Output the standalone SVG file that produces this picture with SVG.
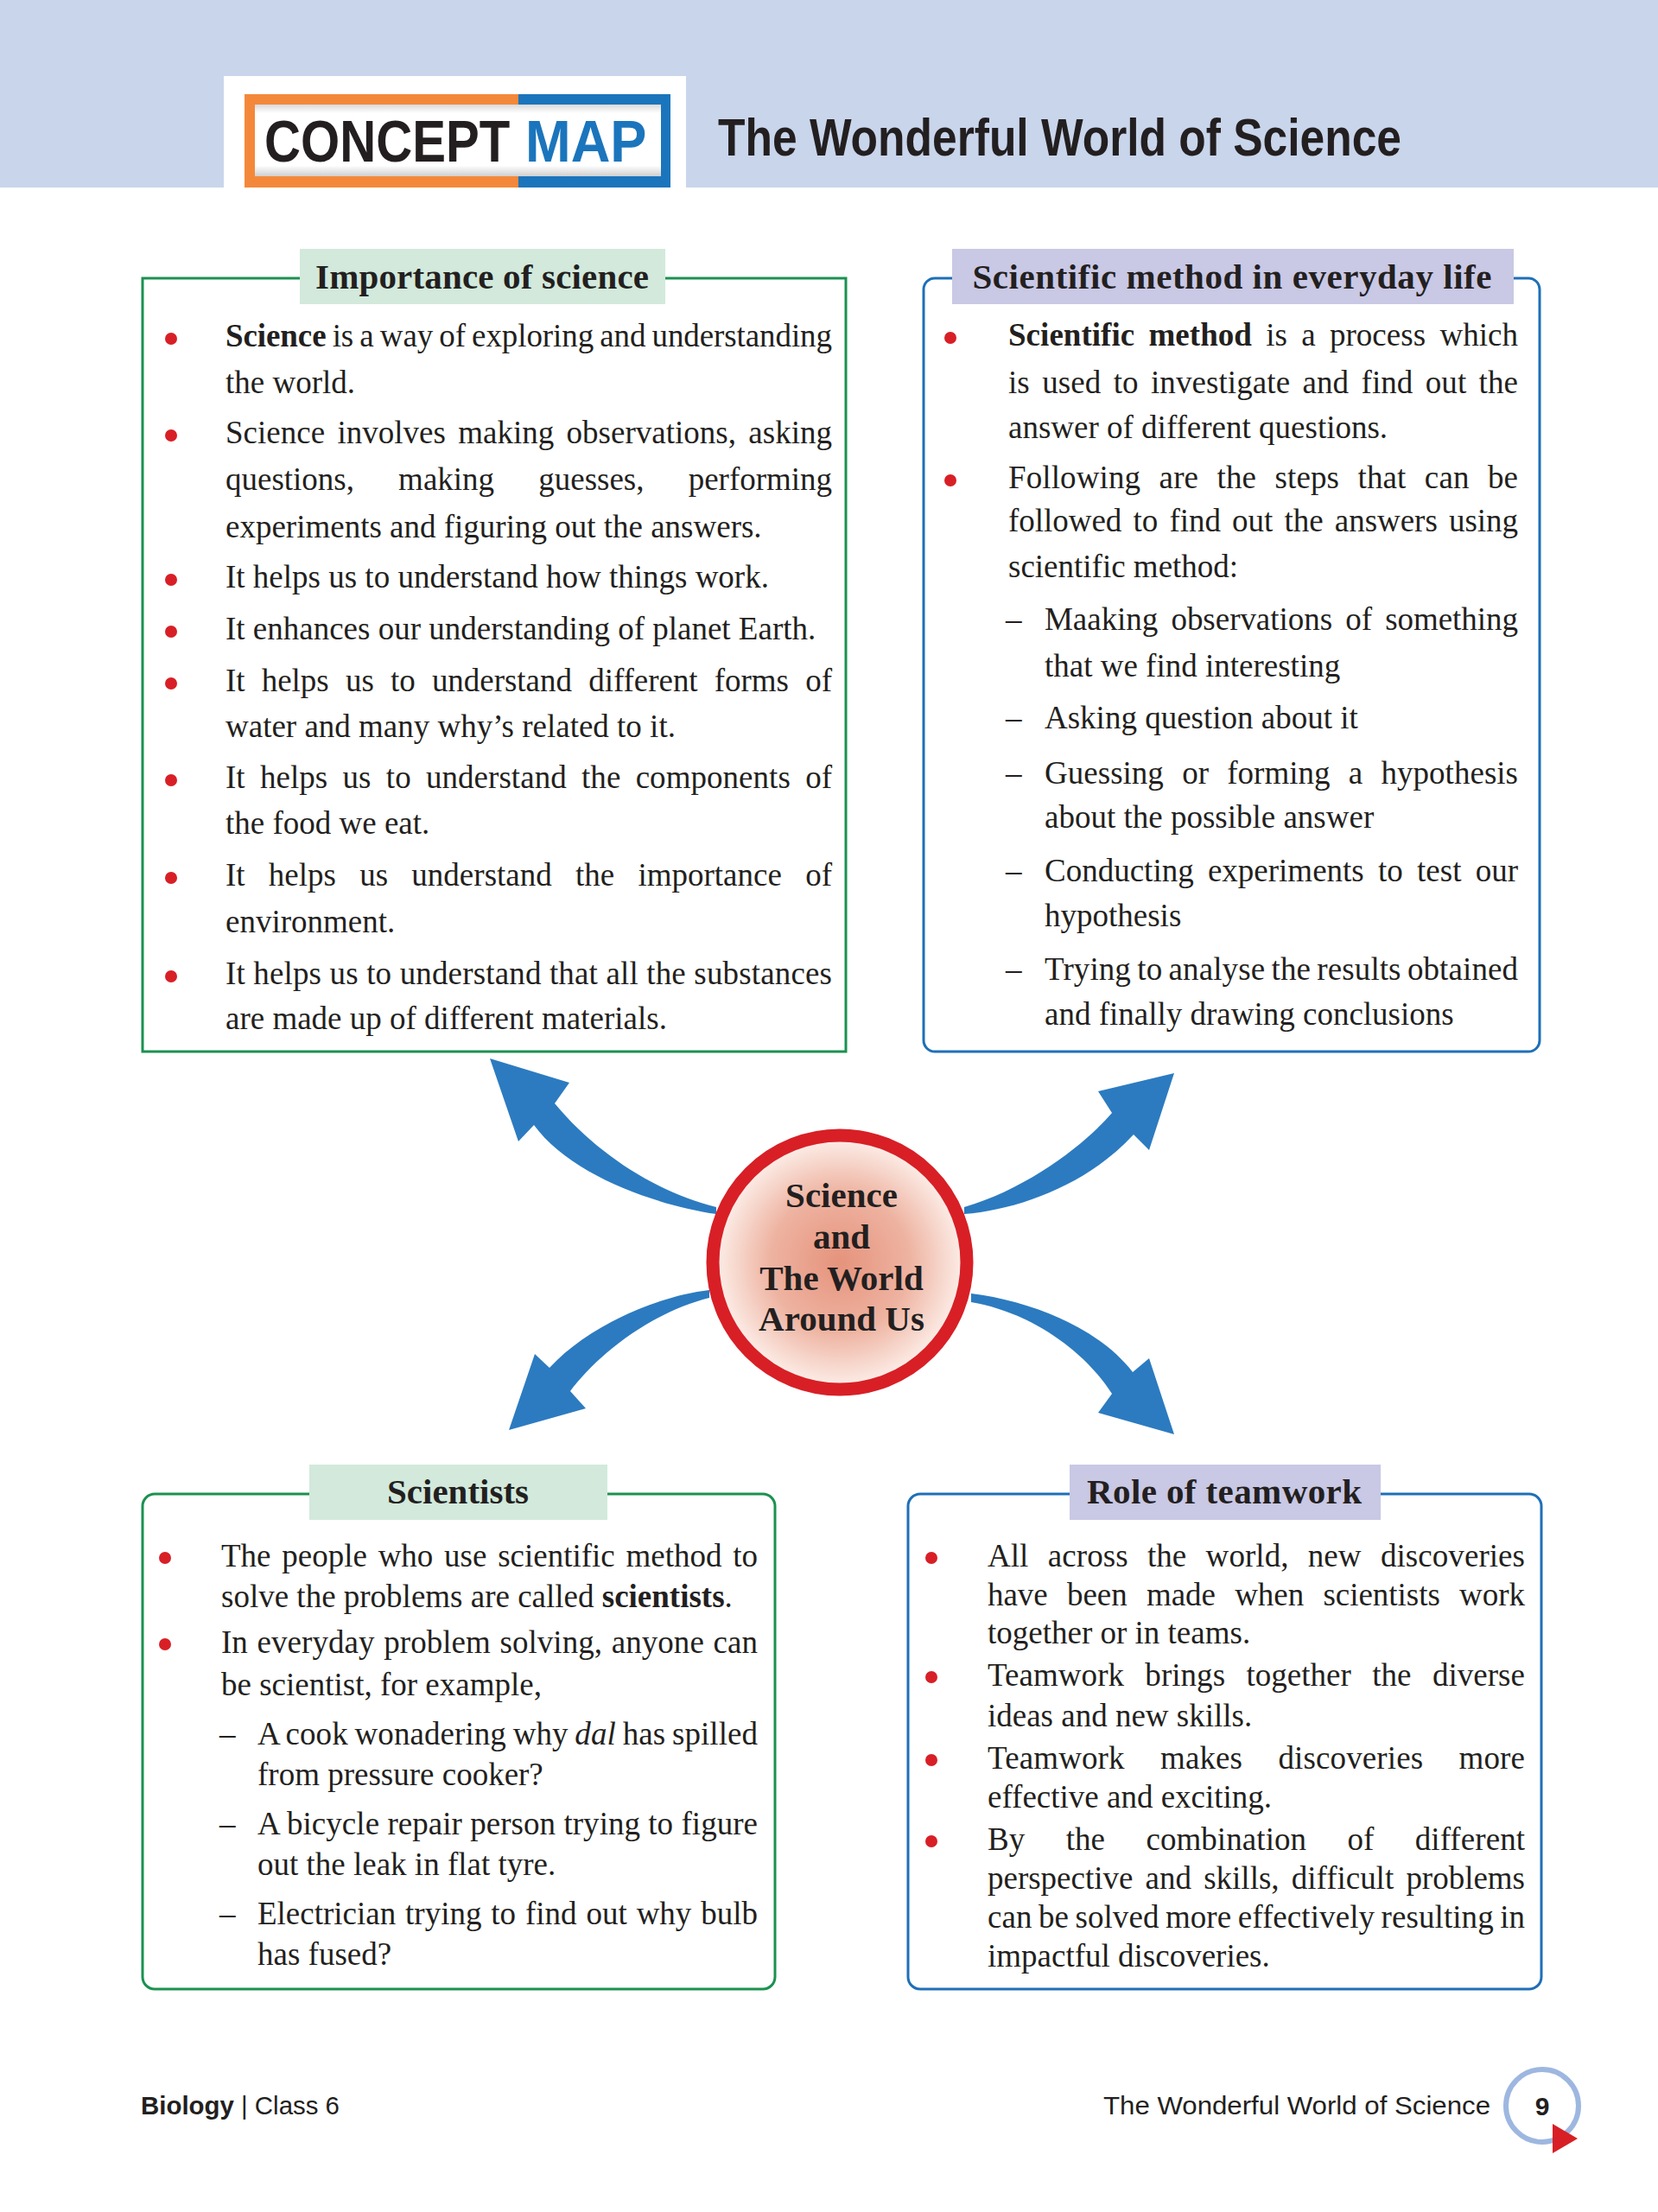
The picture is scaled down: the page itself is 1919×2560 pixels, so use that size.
<svg xmlns="http://www.w3.org/2000/svg" width="1919" height="2560" viewBox="0 0 1919 2560">
<defs>
<radialGradient id="core" cx="0.5" cy="0.5" r="0.5">
<stop offset="0" stop-color="#e5937c"/>
<stop offset="0.55" stop-color="#eeb3a1"/>
<stop offset="1" stop-color="#fdf1ec"/>
</radialGradient>
<linearGradient id="cmshade" x1="0" y1="0" x2="0" y2="1">
<stop offset="0" stop-color="#d9d9d9"/>
<stop offset="0.12" stop-color="#ffffff"/>
<stop offset="0.85" stop-color="#ffffff"/>
<stop offset="1" stop-color="#cfcfcf"/>
</linearGradient>
</defs>
<style>
.body{font-family:"Liberation Serif",serif;font-size:37px;fill:#231f20}
.hd{font-family:"Liberation Serif",serif;font-weight:bold;font-size:41px;fill:#231f20;text-anchor:middle}
.b{font-weight:bold}
.i{font-style:italic}
.dot{fill:#d81f26}
.gbox{fill:#ffffff;stroke:#1b9150;stroke-width:3}
.bbox{fill:#ffffff;stroke:#1e6fb8;stroke-width:3}
.glab{fill:#d2e9dc}
.blab{fill:#c9c8e5}
.arrow{fill:#2c7bc0}
.foot{font-family:"Liberation Sans",sans-serif;font-size:30px;fill:#231f20}
.cm{font-family:"Liberation Sans",sans-serif;font-weight:bold;font-size:68px}
</style>
<rect x="0" y="0" width="1919" height="2560" fill="#ffffff"/>
<g id="header">
<rect x="0" y="0" width="1919" height="217" fill="#c9d5eb"/>
<rect x="259" y="88" width="535" height="129" fill="#ffffff"/>
<rect x="283" y="109" width="318" height="108" fill="#f4883a"/>
<rect x="600" y="109" width="176" height="108" fill="#1b75bc"/>
<rect x="295" y="121" width="470" height="83" fill="url(#cmshade)"/>
<text class="cm" x="0" y="0" transform="translate(306,187) scale(0.855,1)" fill="#231f20">CONCEPT</text>
<text class="cm" x="0" y="0" transform="translate(608,187) scale(0.93,1)" fill="#1b75bc">MAP</text>
<text x="831" y="180" font-family="Liberation Sans, sans-serif" font-weight="bold" font-size="61" textLength="791" lengthAdjust="spacingAndGlyphs" fill="#231f20">The Wonderful World of Science</text>
</g>
<g id="connectors">
<path class="arrow" d="M 829 1397 C 760 1380, 690 1335, 642 1277 L 659 1253 L 567 1225 L 600 1321 L 618 1302 C 660 1360, 760 1395, 829 1405 Z"/>
<path class="arrow" d="M 1116 1397 C 1190 1375, 1255 1325, 1287 1288 L 1271 1263 L 1359 1242 L 1330 1331 L 1312 1313 C 1260 1370, 1180 1400, 1116 1405 Z"/>
<path class="arrow" d="M 821 1493 C 760 1500, 680 1535, 636 1583 L 619 1567 L 589 1655 L 678 1630 L 660 1610 C 690 1570, 750 1520, 821 1502 Z"/>
<path class="arrow" d="M 1124 1497 C 1190 1505, 1270 1535, 1311 1588 L 1330 1572 L 1359 1660 L 1271 1635 L 1287 1613 C 1260 1570, 1200 1520, 1124 1507 Z"/>
</g>
<g id="center">
<circle cx="972" cy="1461" r="147" fill="url(#core)" stroke="#d81f26" stroke-width="15"/>
<text class="hd" x="974" y="1397" font-size="41" fill="#2a1c16">Science</text>
<text class="hd" x="974" y="1445" font-size="41" fill="#2a1c16">and</text>
<text class="hd" x="974" y="1493" font-size="41" fill="#2a1c16">The World</text>
<text class="hd" x="974" y="1540" font-size="41" fill="#2a1c16">Around Us</text>
</g>
<g id="importance">
<rect class="gbox" x="165" y="322" width="814" height="895"/>
<rect class="glab" x="347" y="288" width="423" height="64"/>
<text class="hd" x="558" y="334" textLength="386" lengthAdjust="spacing">Importance of science</text>
<circle class="dot" cx="198" cy="392" r="7"/>
<circle class="dot" cx="198" cy="504" r="7"/>
<circle class="dot" cx="198" cy="671" r="7"/>
<circle class="dot" cx="198" cy="731" r="7"/>
<circle class="dot" cx="198" cy="791" r="7"/>
<circle class="dot" cx="198" cy="903" r="7"/>
<circle class="dot" cx="198" cy="1016" r="7"/>
<circle class="dot" cx="198" cy="1130" r="7"/>
<text class="body" x="261" y="401" word-spacing="-2" textLength="702" lengthAdjust="spacing"><tspan class="b">Science</tspan> is a way of exploring and understanding</text>
<text class="body" x="261" y="455">the world.</text>
<text class="body" x="261" y="513" word-spacing="5" textLength="702" lengthAdjust="spacing">Science involves making observations, asking</text>
<text class="body" x="261" y="567" word-spacing="42" textLength="702" lengthAdjust="spacing">questions, making guesses, performing</text>
<text class="body" x="261" y="622">experiments and figuring out the answers.</text>
<text class="body" x="261" y="680">It helps us to understand how things work.</text>
<text class="body" x="261" y="740">It enhances our understanding of planet Earth.</text>
<text class="body" x="261" y="800" word-spacing="10" textLength="702" lengthAdjust="spacing">It helps us to understand different forms of</text>
<text class="body" x="261" y="853">water and many why’s related to it.</text>
<text class="body" x="261" y="912" word-spacing="8" textLength="702" lengthAdjust="spacing">It helps us to understand the components of</text>
<text class="body" x="261" y="965">the food we eat.</text>
<text class="body" x="261" y="1025" word-spacing="18" textLength="702" lengthAdjust="spacing">It helps us understand the importance of</text>
<text class="body" x="261" y="1079">environment.</text>
<text class="body" x="261" y="1139" textLength="702" lengthAdjust="spacing">It helps us to understand that all the substances</text>
<text class="body" x="261" y="1191">are made up of different materials.</text>
</g>
<g id="scientific-method">
<rect class="bbox" x="1069" y="322" width="713" height="895" rx="13"/>
<rect class="blab" x="1102" y="288" width="650" height="64"/>
<text class="hd" x="1426" y="334" textLength="601" lengthAdjust="spacing">Scientific method in everyday life</text>
<circle class="dot" cx="1100" cy="391" r="7"/>
<circle class="dot" cx="1100" cy="556" r="7"/>
<text class="body" x="1167" y="400" word-spacing="7" textLength="590" lengthAdjust="spacing"><tspan class="b">Scientific method</tspan> is a process which</text>
<text class="body" x="1167" y="455" word-spacing="5" textLength="590" lengthAdjust="spacing">is used to investigate and find out the</text>
<text class="body" x="1167" y="507">answer of different questions.</text>
<text class="body" x="1167" y="565" word-spacing="12" textLength="590" lengthAdjust="spacing">Following are the steps that can be</text>
<text class="body" x="1167" y="615" word-spacing="4" textLength="590" lengthAdjust="spacing">followed to find out the answers using</text>
<text class="body" x="1167" y="668">scientific method:</text>
<text class="body" x="1164" y="729">–</text>
<text class="body" x="1164" y="843">–</text>
<text class="body" x="1164" y="907">–</text>
<text class="body" x="1164" y="1020">–</text>
<text class="body" x="1164" y="1134">–</text>
<text class="body" x="1209" y="729" word-spacing="6" textLength="548" lengthAdjust="spacing">Maaking observations of something</text>
<text class="body" x="1209" y="783">that we find interesting</text>
<text class="body" x="1209" y="843">Asking question about it</text>
<text class="body" x="1209" y="907" word-spacing="12" textLength="548" lengthAdjust="spacing">Guessing or forming a hypothesis</text>
<text class="body" x="1209" y="958">about the possible answer</text>
<text class="body" x="1209" y="1020" word-spacing="7" textLength="548" lengthAdjust="spacing">Conducting experiments to test our</text>
<text class="body" x="1209" y="1072">hypothesis</text>
<text class="body" x="1209" y="1134" word-spacing="-2" textLength="548" lengthAdjust="spacing">Trying to analyse the results obtained</text>
<text class="body" x="1209" y="1186">and finally drawing conclusions</text>
</g>
<g id="scientists">
<rect class="gbox" x="165" y="1729" width="732" height="573" rx="14"/>
<rect class="glab" x="358" y="1695" width="345" height="64"/>
<text class="hd" x="530" y="1740">Scientists</text>
<circle class="dot" cx="191" cy="1803" r="7"/>
<circle class="dot" cx="191" cy="1903" r="7"/>
<text class="body" x="256" y="1813" word-spacing="3.5" textLength="621" lengthAdjust="spacing">The people who use scientific method to</text>
<text class="body" x="256" y="1860">solve the problems are called <tspan class="b">scientists</tspan>.</text>
<text class="body" x="256" y="1913" word-spacing="1.4" textLength="621" lengthAdjust="spacing">In everyday problem solving, anyone can</text>
<text class="body" x="256" y="1962">be scientist, for example,</text>
<text class="body" x="254" y="2019">–</text>
<text class="body" x="254" y="2123">–</text>
<text class="body" x="254" y="2227">–</text>
<text class="body" x="298" y="2019" word-spacing="-1.5" textLength="579" lengthAdjust="spacing">A cook wonadering why <tspan class="i">dal</tspan> has spilled</text>
<text class="body" x="298" y="2066">from pressure cooker?</text>
<text class="body" x="298" y="2123" textLength="579" lengthAdjust="spacing">A bicycle repair person trying to figure</text>
<text class="body" x="298" y="2170">out the leak in flat tyre.</text>
<text class="body" x="298" y="2227" word-spacing="1.7" textLength="579" lengthAdjust="spacing">Electrician trying to find out why bulb</text>
<text class="body" x="298" y="2274">has fused?</text>
</g>
<g id="teamwork">
<rect class="bbox" x="1051" y="1729" width="733" height="573" rx="14"/>
<rect class="blab" x="1238" y="1695" width="360" height="64"/>
<text class="hd" x="1417" y="1740" textLength="318" lengthAdjust="spacing">Role of teamwork</text>
<circle class="dot" cx="1078" cy="1803" r="7"/>
<circle class="dot" cx="1078" cy="1941" r="7"/>
<circle class="dot" cx="1078" cy="2037" r="7"/>
<circle class="dot" cx="1078" cy="2131" r="7"/>
<text class="body" x="1143" y="1813" word-spacing="13" textLength="622" lengthAdjust="spacing">All across the world, new discoveries</text>
<text class="body" x="1143" y="1858" word-spacing="13" textLength="622" lengthAdjust="spacing">have been made when scientists work</text>
<text class="body" x="1143" y="1902">together or in teams.</text>
<text class="body" x="1143" y="1951" word-spacing="15" textLength="622" lengthAdjust="spacing">Teamwork brings together the diverse</text>
<text class="body" x="1143" y="1998">ideas and new skills.</text>
<text class="body" x="1143" y="2047" word-spacing="32" textLength="622" lengthAdjust="spacing">Teamwork makes discoveries more</text>
<text class="body" x="1143" y="2092">effective and exciting.</text>
<text class="body" x="1143" y="2141" word-spacing="38" textLength="622" lengthAdjust="spacing">By the combination of different</text>
<text class="body" x="1143" y="2186" word-spacing="5" textLength="622" lengthAdjust="spacing">perspective and skills, difficult problems</text>
<text class="body" x="1143" y="2231" word-spacing="-2" textLength="622" lengthAdjust="spacing">can be solved more effectively resulting in</text>
<text class="body" x="1143" y="2276">impactful discoveries.</text>
</g>
<g id="footer">
<text class="foot" x="163" y="2447" textLength="230" lengthAdjust="spacingAndGlyphs"><tspan font-weight="bold">Biology</tspan> | Class 6</text>
<text class="foot" x="1277" y="2447" textLength="448" lengthAdjust="spacingAndGlyphs">The Wonderful World of Science</text>
<circle cx="1785" cy="2437" r="42" fill="none" stroke="#9db7e0" stroke-width="6"/>
<text class="foot" x="1785" y="2448" text-anchor="middle" font-weight="bold" font-size="31">9</text>
<polygon points="1797,2458 1826,2475 1797,2492" fill="#d81f26"/>
</g>
</svg>
